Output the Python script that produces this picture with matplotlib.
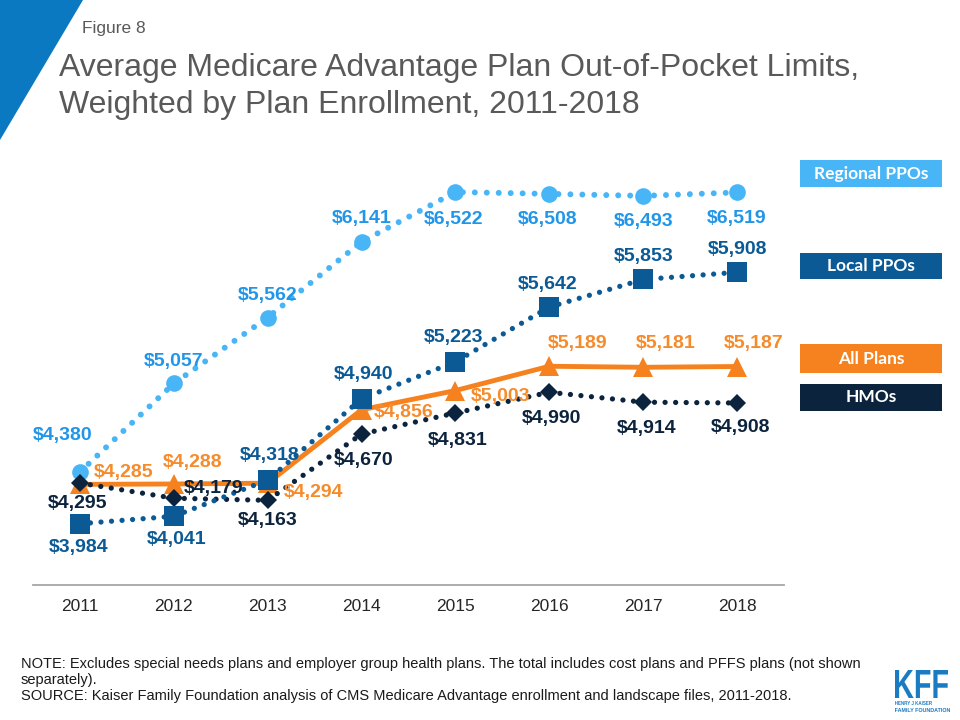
import matplotlib
matplotlib.use("Agg")
import matplotlib.pyplot as plt
from matplotlib.patches import Polygon, Rectangle, PathPatch
from matplotlib.textpath import TextPath
from matplotlib.font_manager import FontProperties
from matplotlib.transforms import Affine2D, IdentityTransform

plt.rcParams['font.family'] = ['Liberation Sans', 'DejaVu Sans']

# data
years = ['2011', '2012', '2013', '2014', '2015', '2016', '2017', '2018']
regional_ppo = [4380, 5057, 5562, 6141, 6522, 6508, 6493, 6519]
local_ppo = [3984, 4041, 4318, 4940, 5223, 5642, 5853, 5908]
all_plans = [4285, 4288, 4294, 4856, 5003, 5189, 5181, 5187]
hmos = [4295, 4179, 4163, 4670, 4831, 4990, 4914, 4908]

# label offsets in pixels (dx right, dy down)
reg_off = [(-17, -36), (0, -22), (0, -22), (0, -23), (-2, 27), (-2, 26), (0, 26), (0, 26)]
loc_off = [(-1, 24), (3, 23), (2, -25), (2, -24), (-2, -24), (-2, -23), (0, -23), (0, -23)]
all_off = [(44, -12), (19, -21), (46, 9), (42, 3), (45, 6), (28, -23), (22, -24), (17, -23)]
hmo_off = [(-2, 20), (40, -10), (0, 20), (2, 26), (2, 27), (2, 26), (3, 26), (3, 25)]

c_reg, c_reg_txt = '#48b5f7', '#2196e8'
c_loc = '#0b5a95'
c_all, c_all_txt = '#f5821f', '#f68b2c'
c_hmo = '#0c233d'

W, H = 960, 720
fig = plt.figure(figsize=(9.6, 7.2), dpi=100)

def fx(x):
    return x / W

def fy(y):
    return 1 - y / H

# corner triangle
fig.add_artist(Polygon([(0, 1), (fx(83), 1), (0, fy(140))], closed=True,
                       transform=fig.transFigure, color='#0b79c1', lw=0))

fig.text(fx(82), fy(33), 'Figure 8', fontsize=12.5, color='#595959', va='baseline')
fig.text(fx(59), fy(76), 'Average Medicare Advantage Plan Out-of-Pocket Limits,',
         fontsize=23, color='#595959', va='baseline')
fig.text(fx(59), fy(113), 'Weighted by Plan Enrollment, 2011-2018',
         fontsize=23, color='#595959', va='baseline')

ax = fig.add_axes([fx(33), fy(585), fx(784) - fx(33), fy(165) - fy(585)])
ax.set_xlim(-0.5, 7.5)
ax.set_ylim(3515, 6729)
ax.set_yticks([])
ax.set_xticks(range(len(years)))
ax.set_xticklabels(years, fontsize=12.5, color='#262626')
ax.tick_params(axis='x', length=0, pad=10)
for s in ['top', 'left', 'right']:
    ax.spines[s].set_visible(False)
ax.spines['bottom'].set_color('#a6a6a6')
ax.spines['bottom'].set_linewidth(1.3)
ax.patch.set_alpha(0)

x = list(range(len(years)))
dots = (0, (0.001, 2.0))

ax.plot(x, regional_ppo, color=c_reg, lw=4.3, linestyle=dots, dash_capstyle='round', zorder=2)
ax.plot(x, regional_ppo, 'o', color=c_reg, ms=12, mew=0, zorder=3)

ax.plot(x, all_plans, color=c_all, lw=3.5, solid_capstyle='butt', zorder=4)
ax.plot(x, all_plans, '^', color=c_all, ms=14.5, mew=0, zorder=5)

ax.plot(x, hmos, color=c_hmo, lw=3.8, linestyle=dots, dash_capstyle='round', zorder=6)
ax.plot(x, hmos, 'D', color=c_hmo, ms=9.2, mew=0, zorder=7)

ax.plot(x, local_ppo, color=c_loc, lw=3.8, linestyle=dots, dash_capstyle='round', zorder=8)
ax.plot(x, local_ppo, 's', color=c_loc, ms=14.5, mew=0, zorder=9)

def labels(vals, offs, color):
    for i, (v, (dx, dy)) in enumerate(zip(vals, offs)):
        ax.annotate(f'${v:,}', (i, v), xytext=(dx, -dy), textcoords='offset pixels',
                    ha='center', va='center', fontsize=14, fontweight='bold',
                    color=color, zorder=10, annotation_clip=False)

labels(regional_ppo, reg_off, c_reg_txt)
labels(local_ppo, loc_off, c_loc)
labels(all_plans, all_off, c_all_txt)
labels(hmos, hmo_off, c_hmo)

# legend boxes
legend = [('Regional PPOs', c_reg, 160, 187), ('Local PPOs', c_loc, 253, 279),
          ('All Plans', c_all, 344, 373), ('HMOs', c_hmo, 384, 411)]
for name, col, y0, y1 in legend:
    fig.add_artist(Rectangle((fx(800), fy(y1)), fx(942) - fx(800), fy(y0) - fy(y1),
                             transform=fig.transFigure, color=col, lw=0))
    fig.text(fx(871), fy((y0 + y1) / 2), name, family=['Lato', 'DejaVu Sans'],
             fontweight='bold', fontsize=12.5, color='white', ha='center', va='center')

note = ('NOTE: Excludes special needs plans and employer group health plans. The total includes cost plans and PFFS plans (not shown\n'
        'separately).\n'
        'SOURCE: Kaiser Family Foundation analysis of CMS Medicare Advantage enrollment and landscape files, 2011-2018.')
fig.text(fx(21), fy(657), note, fontsize=10.5, color='#1a1a1a', va='top', linespacing=1.2)

# KFF logo
def boxed_text(s, x0, x1, ytop, ybot, color):
    tp = TextPath((0, 0), s, size=10, prop=FontProperties(family='Liberation Sans', weight='bold'))
    b = tp.get_extents()
    tr = (Affine2D().translate(-b.x0, -b.y0)
          .scale((x1 - x0) / b.width, (ybot - ytop) / b.height)
          .translate(x0, H - ybot))
    fig.add_artist(PathPatch(tr.transform_path(tp), transform=IdentityTransform(),
                             color=color, lw=0))

boxed_text('KFF', 895, 948, 670, 698, '#1b7bc2')
boxed_text('HENRY J KAISER', 895, 932, 701, 705, '#1b7bc2')
boxed_text('FAMILY FOUNDATION', 895, 950, 708, 712, '#1b7bc2')

fig.savefig('out.png', dpi=100)
